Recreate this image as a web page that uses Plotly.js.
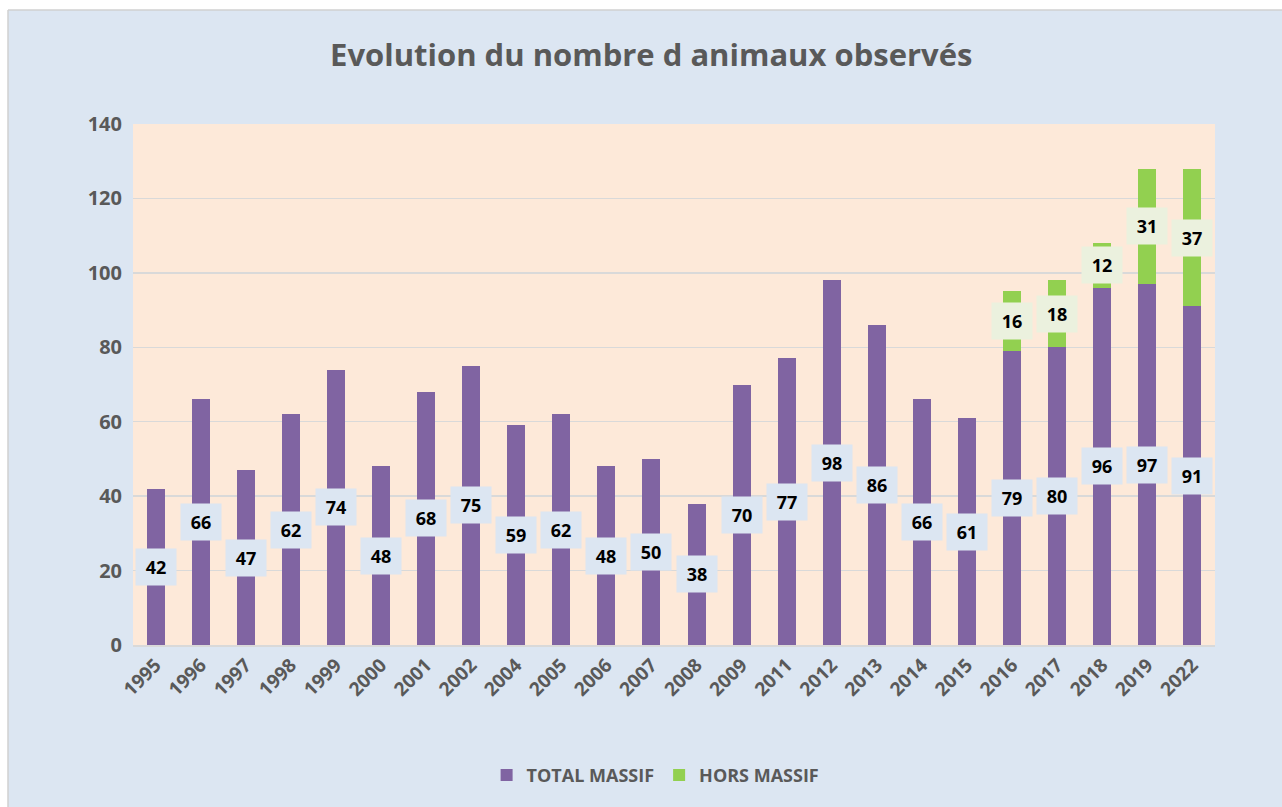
<!DOCTYPE html>
<html><head><meta charset="utf-8">
<script src="https://cdn.plot.ly/plotly-3.0.1.min.js"></script>
<style>html,body{margin:0;padding:0;background:#fff}#chart{width:1282px;height:807px}</style>
</head><body><div id="chart"></div>
<script>
const years = ["1995","1996","1997","1998","1999","2000","2001","2002","2004","2005","2006","2007","2008","2009","2011","2012","2013","2014","2015","2016","2017","2018","2019","2022"];
const totalMassif = [42,66,47,62,74,48,68,75,59,62,48,50,38,70,77,98,86,66,61,79,80,96,97,91];
const horsMassif = [null,null,null,null,null,null,null,null,null,null,null,null,null,null,null,null,null,null,null,16,18,12,31,37];
const yTicks = [0,20,40,60,80,100,120,140];

const FONT = "'Open Sans', 'Noto Sans', sans-serif";
const annotations = [];
years.forEach((y,i)=>{
  annotations.push({x:i, y:totalMassif[i]/2, xref:'x', yref:'y', text:'<b>'+totalMassif[i]+'</b>', showarrow:false,
    bgcolor:'#DCE6F2', width:38, height:34, font:{family:FONT,size:18,color:'#000'}});
  if(horsMassif[i]!=null){
    annotations.push({x:i, y:totalMassif[i]+horsMassif[i]/2, xref:'x', yref:'y', text:'<b>'+horsMassif[i]+'</b>', showarrow:false,
      bgcolor:'#EBF1DE', width:38, height:34, font:{family:FONT,size:18,color:'#000'}});
  }
});

const data = [
  {type:'bar', name:'TOTAL MASSIF', x:years, y:totalMassif, marker:{color:'#8064A2'}, hoverinfo:'x+y'},
  {type:'bar', name:'HORS MASSIF', x:years, y:horsMassif, marker:{color:'#92D050'}, hoverinfo:'x+y'}
];
const layout = {
  width:1282, height:807,
  margin:{l:133, r:67, t:124, b:162},
  paper_bgcolor:'#DCE6F2', plot_bgcolor:'#FDE9D9',
  barmode:'stack', bargap:0.6,
  title:{text:'<b>Evolution du nombre d animaux observés</b>', x:0.508, xanchor:'center', y:0.932, yanchor:'middle',
    font:{family:FONT, size:31, color:'#595959'}},
  xaxis:{type:'category', range:[-0.5, years.length-0.5], tickangle:-45, tickfont:{family:FONT,size:19,color:'#595959',weight:'bold'},
    showline:true, linecolor:'#D9D9D9', linewidth:1.5, ticks:'', showgrid:false, fixedrange:true},
  yaxis:{range:[0,140], tickvals:yTicks, ticktext:yTicks.map(String), tickfont:{family:FONT,size:20,color:'#595959',weight:'bold'},
    gridcolor:'#D9D9D9', gridwidth:1.5, zeroline:false, ticks:'outside', ticklen:6, tickcolor:'rgba(0,0,0,0)', showline:false},
  legend:{orientation:'h', x:0.483, xanchor:'center', y:-0.25, yanchor:'middle', itemwidth:30,
    font:{family:FONT,size:18,color:'#595959',weight:'bold'}, bgcolor:'rgba(0,0,0,0)', traceorder:'normal'},
  annotations:annotations,
  shapes:[
    {type:'rect', xref:'paper', yref:'paper', x0:-0.13, x1:1.07, y0:(645-10)/521, y1:1.25, fillcolor:'#fff', line:{width:0}},
    {type:'rect', xref:'paper', yref:'paper', x0:-0.13, x1:(8-133)/1082, y0:-0.32, y1:1.25, fillcolor:'#fff', line:{width:0}},
    {type:'line', xref:'paper', yref:'paper', x0:(8-133)/1082, x1:1.07, y0:(645-10)/521, y1:(645-10)/521, line:{color:'#D0D0D0', width:1.5}},
    {type:'line', xref:'paper', yref:'paper', x0:(8-133)/1082, x1:(8-133)/1082, y0:-0.32, y1:(645-10)/521, line:{color:'#D0D0D0', width:1.5}}
  ],
  showlegend:true
};
Plotly.newPlot('chart', data, layout, {displayModeBar:false, staticPlot:true});
</script></body></html>
